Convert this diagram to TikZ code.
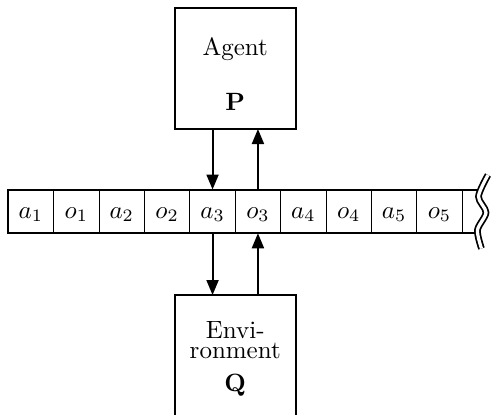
\documentclass[tikz,border=0pt]{standalone}
\usepackage{amsmath}
\usepackage{amssymb}
\usepackage{tikz}
\usetikzlibrary{positioning, arrows.meta}

\begin{document}
\begin{tikzpicture}[x=1pt, y=1pt,
        cell/.style={draw, minimum width=18.16pt, minimum height=17.5pt, inner sep=0pt, outer sep=0pt, text height=1.5ex, text depth=.25ex},
        box/.style={draw, thick, minimum width=48.4pt, minimum height=48.4pt, inner sep=0pt, outer sep=0pt},
        arr/.style={thick, -{Triangle[length=6pt, width=4.8pt]}}]
    \useasboundingbox (0,0) rectangle (196.4,-166);
    % the tape
    \node[cell, anchor=west] (c1) at (3.3,-84.56) {$a_1$};
    \node[cell, right=0pt of c1] (c2) {$o_1$};
    \node[cell, right=0pt of c2] (c3) {$a_2$};
    \node[cell, right=0pt of c3] (c4) {$o_2$};
    \node[cell, right=0pt of c4] (c5) {$a_3$};
    \node[cell, right=0pt of c5] (c6) {$o_3$};
    \node[cell, right=0pt of c6] (c7) {$a_4$};
    \node[cell, right=0pt of c7] (c8) {$o_4$};
    \node[cell, right=0pt of c8] (c9) {$a_5$};
    \node[cell, right=0pt of c9] (c10) {$o_5$};
    \coordinate (tapeend) at ([xshift=6.4pt]c10.north east);
    \draw[thick] (tapeend) -- (c1.north west) -- (c1.south west) -- (tapeend |- c1.south);
    \draw[line width=0.7pt, double=white, double distance=1.3pt]
        plot[smooth] coordinates {(195.2,-70) (191.4,-78.6) (194.4,-85) (191,-92) (192.6,-99.4)};
    % agent and environment
    \node[box, above=24.2pt of c5.north east] (agent) {};
    \node[anchor=base] (agentname) at ([yshift=-18.8pt]agent.north) {Agent};
    \node[anchor=base] (agentlaw) at ([yshift=-41.1pt]agent.north) {$\mathbf{P}$};
    \node[box, minimum height=56pt, below=24.7pt of c5.south east] (env) {};
    \node[anchor=north, align=center, inner sep=0pt] (envname) at ([yshift=-10.3pt]env.north) {Envi-\\[-3.8pt]ronment};
    \node[anchor=base] (envlaw) at ([yshift=-38.7pt]env.north) {$\mathbf{Q}$};
    % actions and observations
    \draw[arr] (agent.south -| c5.north) -- (c5.north);
    \draw[arr] (c6.north) -- (agent.south -| c6.north);
    \draw[arr] (c5.south) -- (env.north -| c5.south);
    \draw[arr] (env.north -| c6.south) -- (c6.south);
\end{tikzpicture}
\end{document}
